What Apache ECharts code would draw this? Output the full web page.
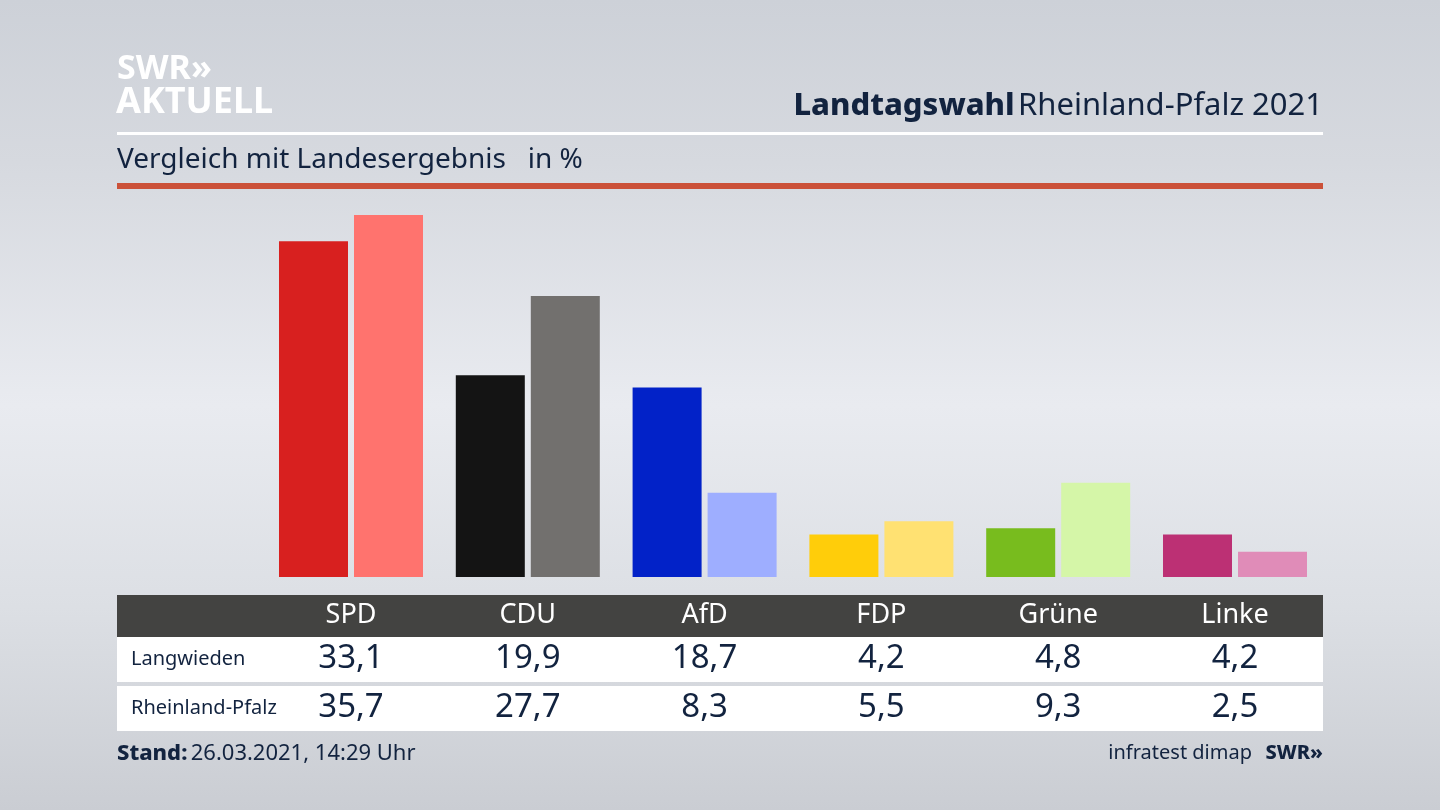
<!DOCTYPE html>
<html><head><meta charset="utf-8">
<style>html,body{margin:0;padding:0;background:#d8dbe0}#c{width:1440px;height:810px}</style>
<script src="https://cdn.jsdelivr.net/npm/echarts@6/dist/echarts.min.js"></script>
</head><body><div id="c"></div>
<script>
const parties = ['SPD','CDU','AfD','FDP','Grüne','Linke'];
const langwieden = [33.1,19.9,18.7,4.2,4.8,4.2];
const rheinlandPfalz = [35.7,27.7,8.3,5.5,9.3,2.5];
const colorsLangwieden = ['#d8201f','#141414','#0222c8','#ffcd0a','#78bc1e','#bc3074'];
const colorsLand = ['#ff736e','#72706e','#9eaeff','#ffe172','#d5f6a8','#e08cb8'];
const rowNames = ['Langwieden','Rheinland-Pfalz'];
const FONT = '"Noto Sans", sans-serif';
const NAVY = '#12233f';
const fmt = v => v.toFixed(1).replace('.', ',');

const chart = echarts.init(document.getElementById('c'), null, {renderer:'canvas', width:1440, height:810});
const rect = (x,y,w,h,fill) => ({type:'rect', z:1, shape:{x,y,width:w,height:h}, style:{fill}});
const text = (x,y,t,size,fill,weight,align) => ({type:'text', z:3, x, y, style:{text:t, fontSize:size, fill, fontWeight:weight||400, fontFamily:FONT, textAlign:align||'left', textVerticalAlign:'middle'}});
const tableAxis = (labels, offset, size, color) => ({
  type:'category', data:labels, position:'bottom', offset, z:5,
  axisLine:{show:false}, axisTick:{show:false},
  axisLabel:{show:true, interval:0, margin:0, fontSize:size, color, fontFamily:FONT, verticalAlign:'middle', lineHeight:size}
});
chart.setOption({
  animation:false,
  backgroundColor:{type:'linear',x:0,y:0,x2:0,y2:1,colorStops:[
    {offset:0,color:'#cdd1d8'},{offset:0.2,color:'#d6d9df'},{offset:0.5,color:'#e9ebf0'},{offset:0.75,color:'#dcdfe4'},{offset:1,color:'#cacdd3'}]},
  grid:{left:262.6, right:116.6, top:171.4, bottom:233},
  xAxis:[
    {type:'category', data:parties, show:false},
    tableAxis(parties, 38, 27, '#ffffff'),
    tableAxis(langwieden.map(fmt), 82, 33, NAVY),
    tableAxis(rheinlandPfalz.map(fmt), 131, 33, NAVY)
  ],
  yAxis:{type:'value', min:0, max:40, show:false},
  series:[
    {type:'bar', name:rowNames[0], data:langwieden.map((v,i)=>({value:v,itemStyle:{color:colorsLangwieden[i]}})), barWidth:69, barGap:'8.7%'},
    {type:'bar', name:rowNames[1], data:rheinlandPfalz.map((v,i)=>({value:v,itemStyle:{color:colorsLand[i]}})), barWidth:69, barGap:'8.7%'},
    {type:'bar', xAxisIndex:1, data:[]},
    {type:'bar', xAxisIndex:2, data:[]},
    {type:'bar', xAxisIndex:3, data:[]}
  ],
  graphic:[
    rect(117,132,1206,3,'#ffffff'),
    rect(117,183,1206,6,'#cb5139'),
    rect(117,595,1206,42,'#434341'),
    rect(117,637,1206,45,'#ffffff'),
    rect(117,686,1206,45,'#ffffff'),
    text(117,69,'SWR»',34,'#ffffff',700),
    text(116,103,'AKTUELL',36,'#ffffff',700),
    {type:'text', z:3, x:1323, y:106, style:{rich:{b:{fontSize:31,fontWeight:800,fill:NAVY,fontFamily:FONT},n:{fontSize:31,fill:NAVY,fontFamily:FONT}}, text:'{b|Landtagswahl} {n|Rheinland-Pfalz 2021}', textAlign:'right', textVerticalAlign:'middle'}},
    text(117,160,'Vergleich mit Landesergebnis   in %',28,NAVY),
    text(131,659,rowNames[0],20,NAVY),
    text(131,708,rowNames[1],20,NAVY),
    {type:'text', z:3, x:117, y:754, style:{rich:{b:{fontSize:22,fontWeight:800,fill:NAVY,fontFamily:FONT},n:{fontSize:22,fill:NAVY,fontFamily:FONT}}, text:'{b|Stand:} {n|26.03.2021, 14:29 Uhr}', textVerticalAlign:'middle'}},
    text(1252,753,'infratest dimap',20,NAVY,400,'right'),
    text(1323,753,'SWR»',20,NAVY,800,'right')
  ]
});
</script></body></html>
